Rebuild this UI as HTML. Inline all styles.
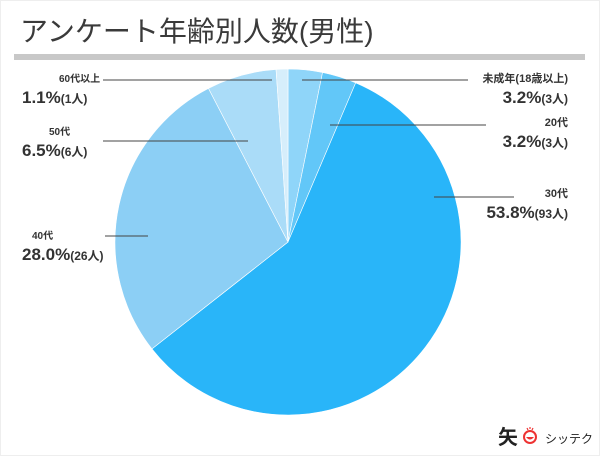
<!DOCTYPE html>
<html><head><meta charset="utf-8"><style>
body{margin:0;width:600px;height:456px;background:#fff;overflow:hidden;font-family:"Liberation Sans","Noto Sans CJK JP",sans-serif;}
svg{display:block}
</style></head><body>
<svg width="600" height="456" id="c">
<rect x="0.5" y="0.5" width="599" height="455" fill="#fff" stroke="#eee"/>
<text x="20" y="41" font-size="28" fill="#3a3a3a" font-family="Liberation Sans, Noto Sans CJK JP, sans-serif">アンケート年齢別人数(男性)</text>
<rect x="14" y="54" width="571" height="6" fill="#c8c8c8"/>
<g id="slices"></g><g id="labels"></g>
<g>
<text x="498" y="444" font-size="20" font-weight="bold" fill="#222" font-family="Noto Sans CJK JP, sans-serif">矢</text>
<circle cx="530" cy="437" r="6" fill="none" stroke="#e33" stroke-width="2"/>
<path d="M526 437 Q530 442 534 437 Z" fill="#e33"/>
<path d="M527 428 l1 2 M530 427 v2 M533 428 l-1 2" stroke="#e33" stroke-width="1.2"/>
<text x="545" y="443" font-size="12" fill="#222" font-family="Noto Sans CJK JP, sans-serif">シッテク</text>
</g>
</svg>
<script>
const categories=["未成年(18歳以上)","20代","30代","40代","50代","60代以上"];
const shareValues=[3.2,3.2,58.0,28.0,6.5,1.1];
const percentLabels=["3.2%","3.2%","53.8%","28.0%","6.5%","1.1%"];
const countLabels=["(3人)","(3人)","(93人)","(26人)","(6人)","(1人)"];
const colors=["#8fd5f9","#62c7f8","#29b5f9","#8ccff5","#aadcf8","#d6eefb"];
const cx=288,cy=242,r=173;
const ns="http://www.w3.org/2000/svg";
const total=shareValues.reduce((a,b)=>a+b,0);
function pt(a,rr){return [cx+rr*Math.sin(a),cy-rr*Math.cos(a)];}
const sg=document.getElementById('slices'),lg=document.getElementById('labels');
const lay=[[302,468,80,568,82],[330,486,125,568,126],[434,514,197,568,197],[105,148,236,32,239],[103,248,141,49,135],[103,272,80,59,82]];
let acc=0;
shareValues.forEach((v,i)=>{
 const a0=acc/total*2*Math.PI;acc+=v;const a1=acc/total*2*Math.PI;
 const p0=pt(a0,r),p1=pt(a1,r);
 const p=document.createElementNS(ns,'path');
 p.setAttribute('d',`M${cx},${cy}L${p0[0]},${p0[1]}A${r},${r} 0 ${a1-a0>Math.PI?1:0} 1 ${p1[0]},${p1[1]}Z`);
 p.setAttribute('fill',colors[i]);p.setAttribute('stroke','#fff');p.setAttribute('stroke-width','0.6');
 
 
 sg.appendChild(p);
 const L=lay[i];
 const ln=document.createElementNS(ns,'line');
 ln.setAttribute('x1',L[0]);ln.setAttribute('x2',L[1]);ln.setAttribute('y1',L[2]);ln.setAttribute('y2',L[2]);
 ln.setAttribute('stroke','#444');ln.setAttribute('stroke-width','1');
 
 
 lg.appendChild(ln);
 const right=i<3;
 const t1=document.createElementNS(ns,'text');
 t1.setAttribute('x',L[3]);t1.setAttribute('y',L[4]);
 t1.setAttribute('text-anchor',right?'end':'start');
 t1.setAttribute('font-size',right?'11':'10');t1.setAttribute('font-weight','bold');t1.setAttribute('fill','#333');
 t1.textContent=categories[i];
 
 
 const t2=document.createElementNS(ns,'text');
 t2.setAttribute('x',right?L[3]:22);t2.setAttribute('y',L[4]+21);
 t2.setAttribute('text-anchor',right?'end':'start');
 t2.setAttribute('font-weight','bold');t2.setAttribute('fill','#333');
 t2.innerHTML=`<tspan font-size="17">${percentLabels[i]}</tspan><tspan font-size="12">${countLabels[i]}</tspan>`;
 
 
 lg.appendChild(t1);lg.appendChild(t2);
});
</script>
</body></html>
